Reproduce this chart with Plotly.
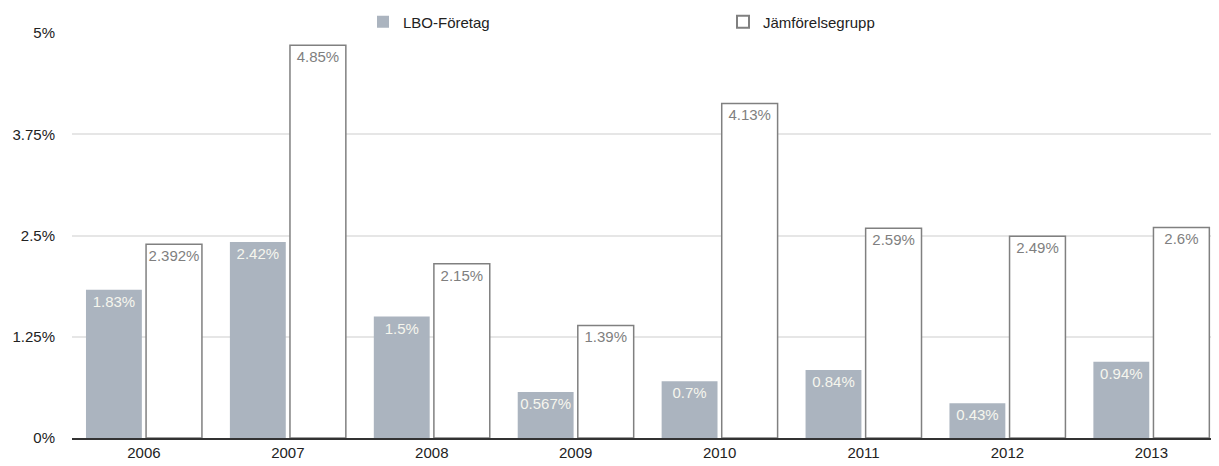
import plotly.graph_objects as go

years = ["2006", "2007", "2008", "2009", "2010", "2011", "2012", "2013"]
lbo = [1.83, 2.42, 1.5, 0.567, 0.7, 0.84, 0.43, 0.94]
jamfor = [2.392, 4.85, 2.15, 1.39, 4.13, 2.59, 2.49, 2.6]
tick_vals = [0, 1.25, 2.5, 3.75, 5]
tick_text = ["0%", "1.25%", "2.5%", "3.75%", "5%"]

font_family = "Liberation Sans, Arial, sans-serif"

# page body has an 8px default margin; size the figure to fit the window
W, H = 1211, 458
L, T, B = 64, 25, 28
plot_w, plot_h = W - L, H - T - B

fig = go.Figure()
fig.add_trace(go.Bar(
    name="LBO-Företag", x=years, y=lbo,
    text=[f"{v}%" for v in lbo],
    textposition="inside", insidetextanchor="end", textangle=0,
    textfont=dict(color="#f6f6ee", size=15, family=font_family),
    marker=dict(color="#abb4bf", line=dict(width=0)),
))
fig.add_trace(go.Bar(
    name="Jämförelsegrupp", x=years, y=jamfor,
    text=[f"{v}%" for v in jamfor],
    textposition="inside", insidetextanchor="end", textangle=0,
    textfont=dict(color="#7f7f7f", size=15, family=font_family),
    marker=dict(color="#ffffff", line=dict(color="#808080", width=1.5)),
))

fig.update_layout(
    width=W, height=H,
    margin=dict(l=L, r=0, t=T, b=B, pad=0, autoexpand=False),
    paper_bgcolor="white", plot_bgcolor="white",
    barmode="group", bargap=0.165, bargroupgap=0.07,
    uniformtext=dict(mode="show", minsize=15),
    font=dict(family=font_family, size=15, color="#222"),
    showlegend=True,
    legend=dict(
        orientation="h", x=(355 - L) / plot_w, xanchor="left",
        y=1.0 + 11 / plot_h, yanchor="middle",
        entrywidth=315, entrywidthmode="pixels",
        font=dict(size=15, color="#222"), bgcolor="rgba(0,0,0,0)",
        itemsizing="constant", traceorder="normal",
    ),
    xaxis=dict(
        range=[-0.5, 7.47], showgrid=False, showline=True,
        linecolor="#333", linewidth=1.5, ticks="",
        tickfont=dict(size=15, color="#222"),
    ),
    yaxis=dict(
        range=[0, 5], tickvals=tick_vals, ticktext=tick_text,
        showgrid=True, gridcolor="#e6e6e6", gridwidth=1.5,
        zeroline=False, showline=False, ticks="",
        ticklabelstandoff=16,
        tickfont=dict(size=15, color="#222"),
    ),
)

fig.write_html("out.html")
